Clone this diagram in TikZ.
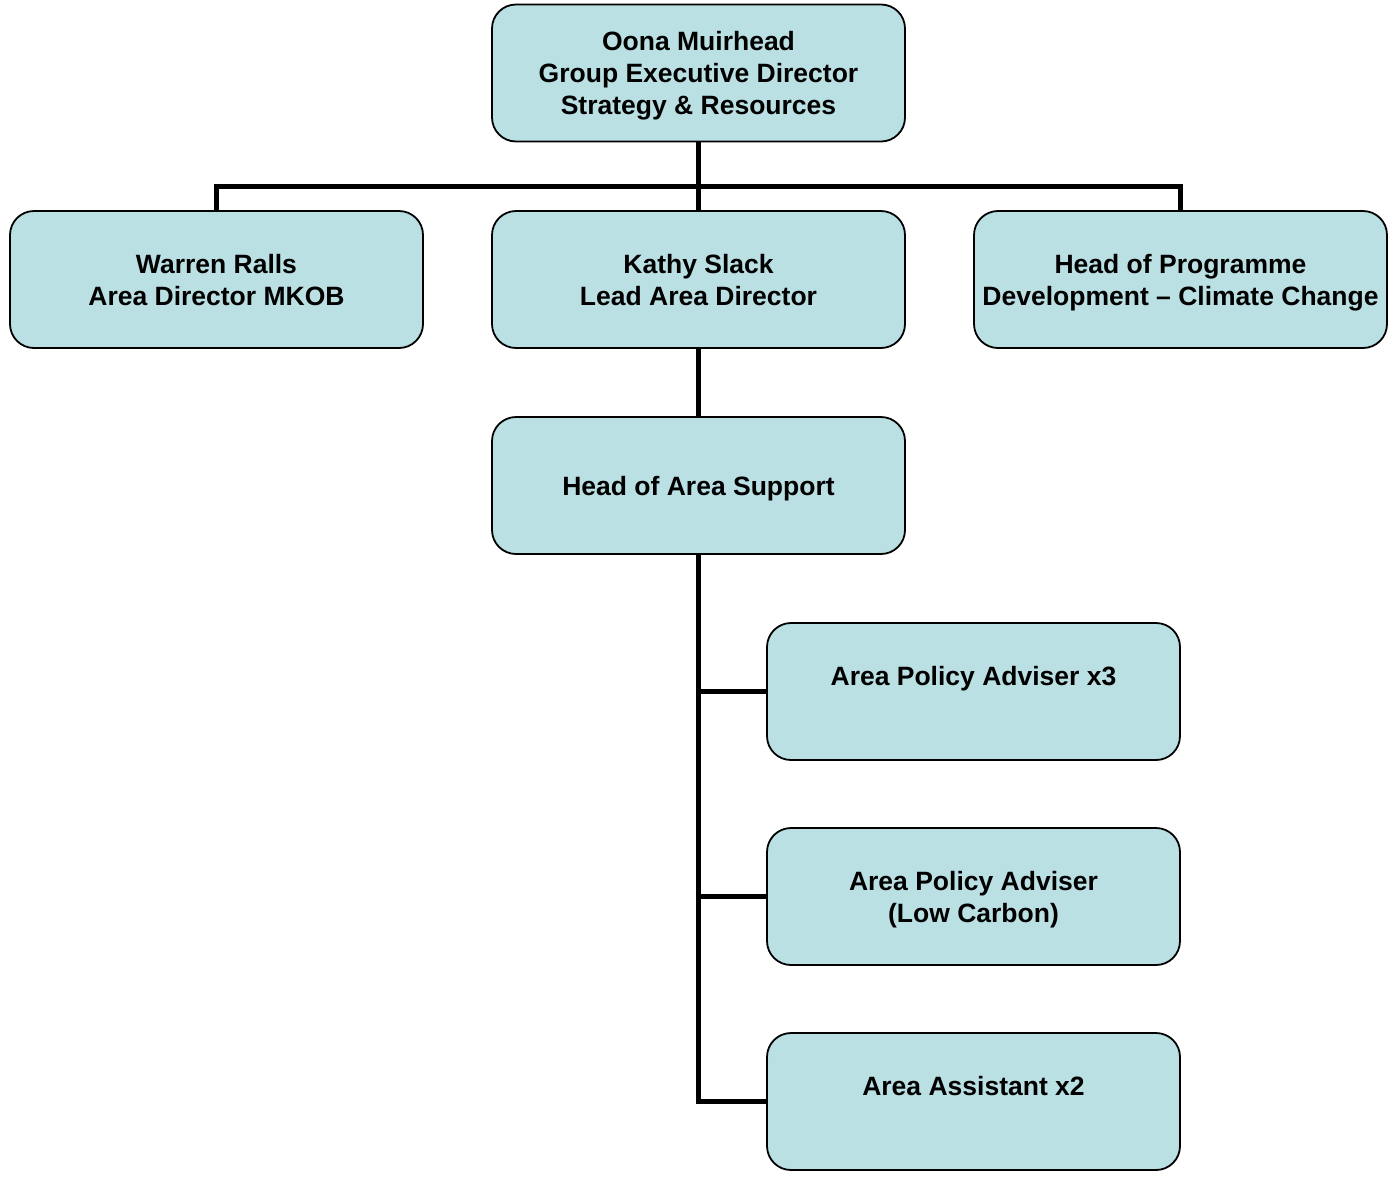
\documentclass[tikz,border=0pt]{standalone}
\usepackage{fontspec}
\setmainfont{Liberation Sans}
\definecolor{boxfill}{RGB}{186,224,227}
\begin{document}
\begin{tikzpicture}[x=1pt,y=-1pt,
  orgbox/.style={draw=black, line width=1.8pt, fill=boxfill, rounded corners=24pt,
    minimum width=413pt, minimum height=137pt, inner sep=0pt, align=center,
    text depth=0pt, font=\fontsize{26.5}{32}\selectfont\bfseries},
  conn/.style={line width=5pt, black}]
\useasboundingbox (0,0) rectangle (1394,1176);
\coordinate (bus) at (698.5,186);
\node[orgbox, text depth=-6pt] (top) at (698.5,73) {Oona Muirhead\\Group Executive Director\\Strategy \& Resources};
\node[orgbox] (warren) at (216.5,279.5) {Warren Ralls\\Area Director MKOB};
\node[orgbox] (kathy) at (698.5,279.5) {Kathy Slack\\Lead Area Director};
\node[orgbox] (hpd) at (1180.5,279.5) {Head of Programme\\Development -- Climate Change};
\node[orgbox] (has) at (698.5,485.5) {Head of Area Support};
\node[orgbox] (apa) at (973.5,691.5) {Area Policy Adviser x3\\\mbox{}};
\node[orgbox] (apl) at (973.5,896.5) {Area Policy Adviser\\(Low Carbon)};
\node[orgbox] (aa) at (973.5,1101.5) {Area Assistant x2\\\mbox{}};
\draw[conn] (top.south) -- (bus);
\draw[conn] (warren.north) |- (bus);
\draw[conn] (hpd.north) |- (bus);
\draw[conn] (bus) -- (kathy.north);
\draw[conn] (kathy.south) -- (has.north);
\draw[conn] (has.south) |- (aa.west);
\draw[conn] (has.south |- apa.west) -- (apa.west);
\draw[conn] (has.south |- apl.west) -- (apl.west);
\end{tikzpicture}
\end{document}
